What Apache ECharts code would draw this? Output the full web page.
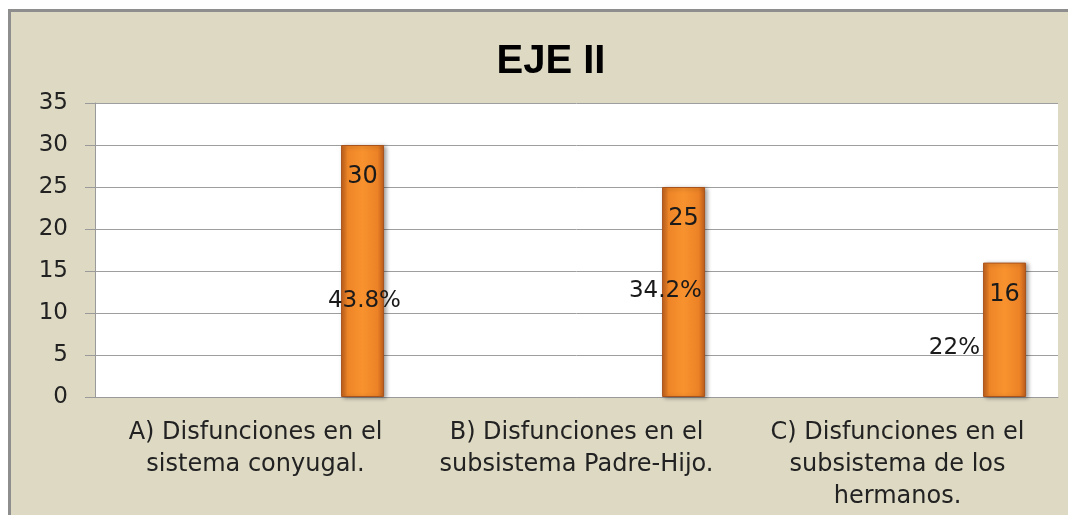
<!DOCTYPE html>
<html>
<head>
<meta charset="utf-8">
<script src="https://cdn.jsdelivr.net/npm/echarts@6/dist/echarts.min.js"></script>
<style>
  html, body { margin: 0; padding: 0; background: #ffffff; }
  #frame {
    position: absolute; left: 8px; top: 9px; width: 1100px; height: 540px;
    background: #DDD9C3; border-left: 3px solid #8E8E8E; border-top: 3px solid #8E8E8E;
  }
  #chart { position: absolute; left: 0; top: 0; width: 1068px; height: 515px; }
</style>
</head>
<body>
<div id="frame"></div>
<div id="chart"></div>
<script>
  // datos del grafico
  let categorias = [
    'A) Disfunciones en el\nsistema conyugal.',
    'B) Disfunciones en el\nsubsistema Padre-Hijo.',
    'C) Disfunciones en el\nsubsistema de los\nhermanos.'
  ]
  let frecuencias = [30, 25, 16]
  let porcentajes = ['43.8%', '34.2%', '22%']
  let ticksY = [0, 5, 10, 15, 20, 25, 30, 35]

  // desplazamiento manual de las etiquetas de porcentaje (como en el original)
  let offsetsPct = [[216, 30], [196, -1], [164, 18]]

  let myChart = echarts.init(document.getElementById('chart'))

  let barColor = {
    type: 'linear', x: 0, y: 0, x2: 1, y2: 0,
    colorStops: [
      { offset: 0, color: '#C2621D' },
      { offset: 0.15, color: '#EE8528' },
      { offset: 0.5, color: '#F8922E' },
      { offset: 0.85, color: '#EC8226' },
      { offset: 1, color: '#BB5C1C' }
    ]
  }

  let option = {
    animation: false,
    backgroundColor: 'transparent',
    title: {
      text: 'EJE II',
      left: 546,
      textAlign: 'center',
      top: 37,
      textStyle: {
        fontFamily: 'Liberation Sans',
        fontWeight: 'bold',
        fontSize: 40,
        color: '#000000'
      }
    },
    grid: {
      left: 95,
      right: 10,
      top: 103,
      bottom: 118,
      show: true,
      backgroundColor: '#ffffff',
      borderWidth: 0
    },
    xAxis: {
      type: 'category',
      data: categorias,
      axisLine: { show: true, lineStyle: { color: '#9A9A9A', width: 1 } },
      axisTick: { show: false },
      axisLabel: {
        margin: 20,
        fontFamily: 'DejaVu Sans',
        fontSize: 24,
        lineHeight: 32,
        color: '#222222',
        interval: 0
      }
    },
    yAxis: {
      type: 'value',
      min: ticksY[0],
      max: ticksY[ticksY.length - 1],
      interval: 5,
      axisLine: { show: true, lineStyle: { color: '#9A9A9A', width: 1 } },
      axisTick: { show: true, inside: false, length: 10, lineStyle: { color: '#9A9A9A' } },
      splitLine: { show: true, lineStyle: { color: '#9E9E9E', width: 1 } },
      axisLabel: {
        margin: 27,
        fontFamily: 'DejaVu Sans',
        fontSize: 23,
        color: '#222222'
      }
    },
    series: [
      {
        name: 'Porcentaje',
        type: 'bar',
        barWidth: 43,
        data: frecuencias.map(function (v, i) {
          return {
            value: v,
            label: { offset: offsetsPct[i] }
          }
        }),
        itemStyle: { color: 'rgba(0,0,0,0)' },
        label: {
          show: true,
          position: 'inside',
          formatter: function (p) { return porcentajes[p.dataIndex] },
          fontFamily: 'DejaVu Sans',
          fontSize: 23,
          color: '#1a1a1a'
        },
        z: 3
      },
      {
        name: 'Frecuencia',
        type: 'bar',
        barWidth: 43,
        barGap: '398%',
        data: frecuencias,
        itemStyle: {
          color: barColor,
          borderColor: '#A9531C',
          borderWidth: 1,
          shadowColor: 'rgba(0,0,0,0.35)',
          shadowBlur: 4,
          shadowOffsetX: 2,
          shadowOffsetY: 1
        },
        label: {
          show: true,
          position: 'insideTop',
          distance: 20,
          fontFamily: 'DejaVu Sans',
          fontSize: 24,
          color: '#1a1a1a'
        },
        z: 2
      }
    ]
  }
  myChart.setOption(option)
</script>
</body>
</html>
